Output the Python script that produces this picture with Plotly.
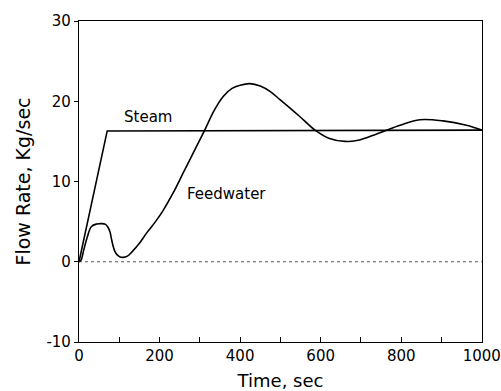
import plotly.graph_objects as go

# Data
steam_t = [0, 70, 1000]
steam_v = [0, 16.3, 16.4]

feed_t = [0, 5, 11, 20, 31, 44, 56, 66, 72, 77, 81, 85, 89, 95, 102, 110, 120, 131, 150, 168,
          190, 209, 234, 259, 288, 313, 335, 358, 380, 400, 424, 450, 475, 499, 548,
          586, 620, 660, 690, 714, 759, 797, 846, 904, 962, 1000]
feed_v = [0, 0.2, 1.3, 3.0, 4.4, 4.7, 4.75, 4.65, 4.3, 3.7, 2.75, 1.9, 1.3, 0.85, 0.6, 0.55, 0.7,
          1.2, 2.3, 3.6, 5.0, 6.4, 8.6, 11.1, 14.0, 16.5, 18.8, 20.6, 21.6, 22.0, 22.2, 21.9,
          21.2, 20.2, 18.1, 16.4, 15.4, 15.0, 15.1, 15.45, 16.3, 17.0, 17.7, 17.55,
          17.0, 16.4]

zero_t = [0, 1000]
zero_v = [0, 0]

x_ticks = [0, 200, 400, 600, 800, 1000]
x_labels = ["0", "200", "400", "600", "800", "1000"]
y_ticks = [-10, 0, 10, 20, 30]
y_labels = ["-10", "0", "10", "20", "30"]

FONT = "DejaVu Sans"

fig = go.Figure()
fig.add_trace(go.Scatter(x=zero_t, y=zero_v, mode="lines",
                         line=dict(color="#555555", width=1, dash="dot"), showlegend=False))
fig.add_trace(go.Scatter(x=steam_t, y=steam_v, mode="lines", name="Steam",
                         line=dict(color="black", width=1.6), showlegend=False))
fig.add_trace(go.Scatter(x=feed_t, y=feed_v, mode="lines", name="Feedwater",
                         line=dict(color="black", width=1.6, shape="spline", smoothing=1.0),
                         showlegend=False))

fig.add_annotation(x=171, y=18, text="Steam", showarrow=False,
                   font=dict(family=FONT, size=15, color="black"))
fig.add_annotation(x=366, y=8.4, text="Feedwater", showarrow=False,
                   font=dict(family=FONT, size=15, color="black"))

fig.update_layout(
    width=501, height=391,
    margin=dict(l=79, r=19, t=21, b=49),
    paper_bgcolor="white", plot_bgcolor="white",
    font=dict(family=FONT, color="black"),
)
fig.update_xaxes(
    range=[0, 1000.5], tickvals=x_ticks, ticktext=x_labels, ticks="inside", ticklen=5,
    tickwidth=1, ticklabeloverflow="allow", automargin=False,
    tickcolor="black", showline=True, linecolor="black", linewidth=1.2, mirror=True,
    showgrid=False, zeroline=False, tickfont=dict(family=FONT, size=15, color="black"),
    minor=dict(dtick=100, tick0=0, ticks="inside", ticklen=5, tickcolor="black", showgrid=False),
    title=dict(text="Time, sec", font=dict(family=FONT, size=18, color="black"), standoff=12),
)
fig.update_yaxes(
    range=[-10, 30], tickvals=y_ticks, ticktext=y_labels, ticks="outside", ticklen=4,
    tickwidth=1, automargin=False,
    tickcolor="black", showline=True, linecolor="black", linewidth=1.2, mirror=True,
    showgrid=False, zeroline=False, tickfont=dict(family=FONT, size=15, color="black"),
    title=dict(text="Flow Rate, Kg/sec", font=dict(family=FONT, size=19, color="black"), standoff=10),
)

fig.write_html("out.html")
